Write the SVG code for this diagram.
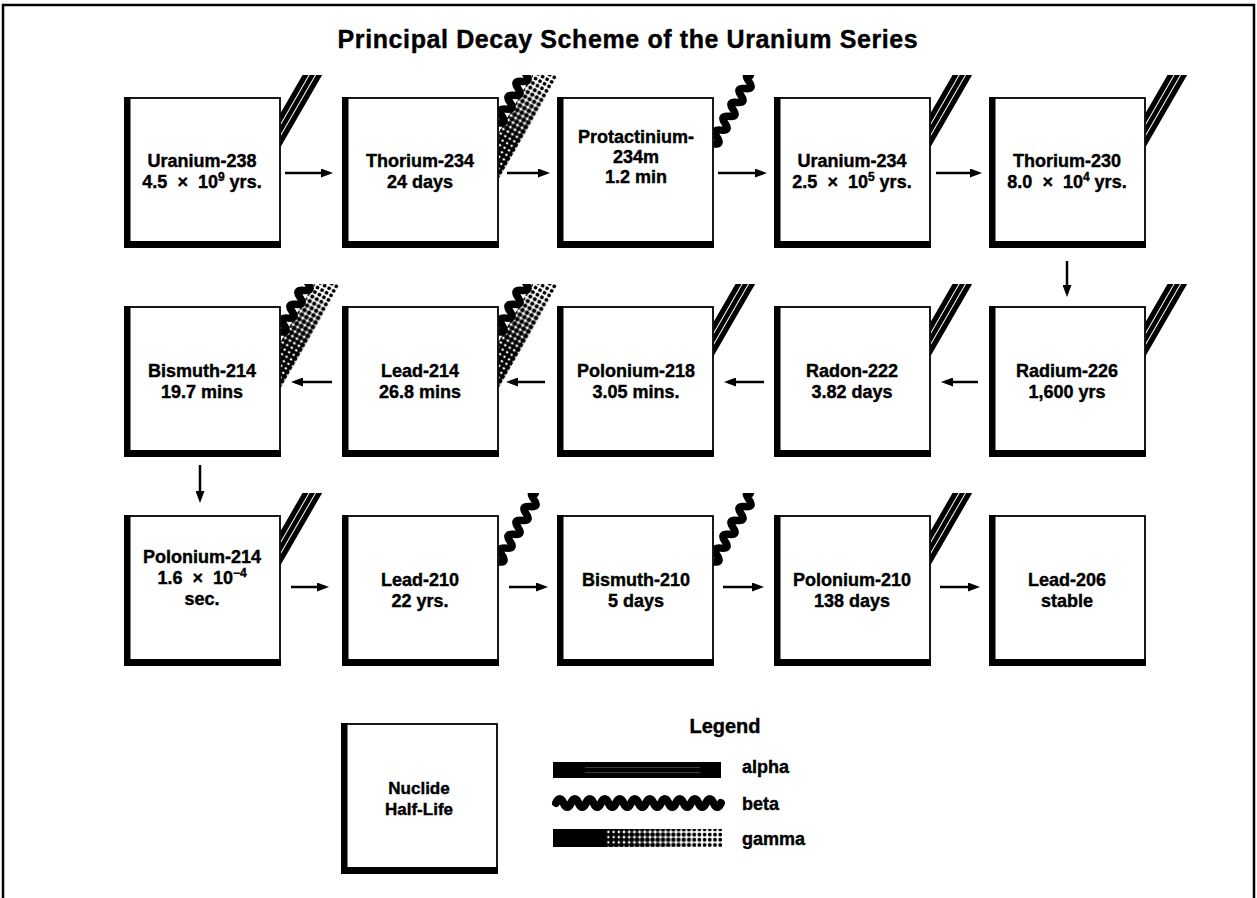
<svg xmlns="http://www.w3.org/2000/svg" xmlns:xlink="http://www.w3.org/1999/xlink" width="1257" height="898" viewBox="0 0 1257 898">
<style>
text{font-family:"Liberation Sans",Arial,Helvetica,sans-serif;font-weight:bold;fill:#000;stroke:#000;stroke-width:0.4}
.t{font-size:18px;text-anchor:middle}
.title{font-size:25px;text-anchor:middle;letter-spacing:0.6px}
.leg{font-size:18px}
.conn line{stroke:#000;stroke-width:2.5;marker-end:url(#ah)}
.wave{fill:none;stroke:#000;stroke-linecap:round}
</style>
<defs>
<marker id="ah" markerUnits="userSpaceOnUse" markerWidth="12" markerHeight="9" refX="8" refY="4.5" orient="auto">
<path d="M0,0 L12,4.5 L0,9 z" fill="#000"/>
</marker>
<clipPath id="clipDec"><rect x="0.6" y="-23" width="120" height="160"/></clipPath>
<pattern id="dotsB" patternUnits="userSpaceOnUse" width="5.2" height="5.2"><circle cx="2.6" cy="2.6" r="1.9" fill="#000"/></pattern>
<pattern id="dotsW" patternUnits="userSpaceOnUse" width="5.2" height="5.2"><circle cx="0" cy="0" r="1.2" fill="#fff"/><circle cx="5.2" cy="0" r="1.2" fill="#fff"/><circle cx="0" cy="5.2" r="1.2" fill="#fff"/><circle cx="5.2" cy="5.2" r="1.2" fill="#fff"/></pattern>
<linearGradient id="fadeDec" x1="0" y1="0" x2="1" y2="0">
<stop offset="0" stop-color="#000" stop-opacity="1"/>
<stop offset="0.35" stop-color="#000" stop-opacity="1"/>
<stop offset="0.6" stop-color="#000" stop-opacity="0.6"/>
<stop offset="0.85" stop-color="#000" stop-opacity="0"/>
</linearGradient>
<linearGradient id="fadeLeg" x1="0" y1="0" x2="1" y2="0">
<stop offset="0" stop-color="#000" stop-opacity="1"/>
<stop offset="0.35" stop-color="#000" stop-opacity="1"/>
<stop offset="0.7" stop-color="#000" stop-opacity="0.45"/>
<stop offset="0.9" stop-color="#000" stop-opacity="0"/>
</linearGradient>
<g id="nbox">
<rect x="0" y="0" width="155" height="149" fill="#fff" stroke="#000" stroke-width="1.8"/>
<path d="M-0.9,-0.9 h6.4 v144 h150.4 v6.8 h-156.8 z" fill="#000"/>
</g>
<g id="alphaDec" clip-path="url(#clipDec)">
<g transform="translate(0,50) rotate(-60)">
<rect x="-10" y="-17" width="110" height="17" fill="#000"/>
<line x1="-10" y1="-5.7" x2="100" y2="-5.7" stroke="#fff" stroke-width="1"/>
<line x1="-10" y1="-11.3" x2="100" y2="-11.3" stroke="#fff" stroke-width="1"/>
</g>
</g>
<g id="betaDec" clip-path="url(#clipDec)">
<path class="wave" stroke-width="7.5" transform="translate(0,46) rotate(-60)" d="M-8,0 q4,-9 8,0 t8,0 t8,0 t8,0 t8,0 t8,0 t8,0 t8,0 t8,0 t8,0 t6,-2"/>
</g>
<g id="bgDec" clip-path="url(#clipDec)">
<g transform="translate(0,82) rotate(-60)">
<rect x="-10" y="-23" width="135" height="23" fill="url(#dotsB)"/>
<rect x="-10" y="-23" width="135" height="23" fill="url(#fadeDec)"/>
<rect x="-10" y="-23" width="135" height="23" fill="url(#dotsW)"/>
</g>
<path class="wave" stroke-width="7.5" transform="translate(0,25) rotate(-60)" d="M-8,0 q4,-9 8,0 t8,0 t8,0 t8,0 t8,0 t8,0 t8,0 t8,0"/>
</g>
</defs>

<rect width="1257" height="898" fill="#fff"/>
<path d="M3,898 V5 H1254 V898" fill="none" stroke="#000" stroke-width="2.5"/>
<text class="title" x="628" y="48">Principal Decay Scheme of the Uranium Series</text>

<g id="connectors" class="conn">
<line x1="285" y1="173" x2="329" y2="173"/>
<line x1="507" y1="173" x2="546" y2="173"/>
<line x1="718" y1="173" x2="763" y2="173"/>
<line x1="936" y1="173" x2="978" y2="173"/>
<line x1="1067" y1="261" x2="1067" y2="293"/>
<line x1="978" y1="382" x2="945" y2="382"/>
<line x1="764" y1="382" x2="728" y2="382"/>
<line x1="545" y1="382" x2="510" y2="382"/>
<line x1="332" y1="382" x2="295" y2="382"/>
<line x1="200" y1="465" x2="200" y2="499"/>
<line x1="291" y1="587" x2="325" y2="587"/>
<line x1="509" y1="587" x2="544" y2="587"/>
<line x1="723" y1="587" x2="760" y2="587"/>
<line x1="940" y1="587" x2="976" y2="587"/>
</g>

<g id="uranium238">
<use xlink:href="#alphaDec" x="280" y="98"/>
<use xlink:href="#nbox" x="125" y="98"/>
<text class="t" x="202" y="167">Uranium-238</text>
<text class="t" x="202" y="188">4.5&#160; ×&#160; 10<tspan dy="-7" font-size="12">9</tspan><tspan dy="7"> yrs.</tspan></text>
</g>
<g id="thorium234">
<use xlink:href="#bgDec" x="498" y="98"/>
<use xlink:href="#nbox" x="343" y="98"/>
<text class="t" x="420" y="167">Thorium-234</text>
<text class="t" x="420" y="188">24 days</text>
</g>
<g id="protactinium234m">
<use xlink:href="#betaDec" x="713" y="98"/>
<use xlink:href="#nbox" x="558" y="98"/>
<text class="t" x="636" y="143">Protactinium-</text>
<text class="t" x="636" y="163">234m</text>
<text class="t" x="636" y="183">1.2 min</text>
</g>
<g id="uranium234">
<use xlink:href="#alphaDec" x="930" y="98"/>
<use xlink:href="#nbox" x="775" y="98"/>
<text class="t" x="852" y="167">Uranium-234</text>
<text class="t" x="852" y="188">2.5&#160; ×&#160; 10<tspan dy="-7" font-size="12">5</tspan><tspan dy="7"> yrs.</tspan></text>
</g>
<g id="thorium230">
<use xlink:href="#alphaDec" x="1145" y="98"/>
<use xlink:href="#nbox" x="990" y="98"/>
<text class="t" x="1067" y="167">Thorium-230</text>
<text class="t" x="1067" y="188">8.0&#160; ×&#160; 10<tspan dy="-7" font-size="12">4</tspan><tspan dy="7"> yrs.</tspan></text>
</g>

<g id="radium226">
<use xlink:href="#alphaDec" x="1145" y="307"/>
<use xlink:href="#nbox" x="990" y="307"/>
<text class="t" x="1067" y="377">Radium-226</text>
<text class="t" x="1067" y="398">1,600 yrs</text>
</g>
<g id="radon222">
<use xlink:href="#alphaDec" x="930" y="307"/>
<use xlink:href="#nbox" x="775" y="307"/>
<text class="t" x="852" y="377">Radon-222</text>
<text class="t" x="852" y="398">3.82 days</text>
</g>
<g id="polonium218">
<use xlink:href="#alphaDec" x="713" y="307"/>
<use xlink:href="#nbox" x="558" y="307"/>
<text class="t" x="636" y="377">Polonium-218</text>
<text class="t" x="636" y="398">3.05 mins.</text>
</g>
<g id="lead214">
<use xlink:href="#bgDec" x="498" y="307"/>
<use xlink:href="#nbox" x="343" y="307"/>
<text class="t" x="420" y="377">Lead-214</text>
<text class="t" x="420" y="398">26.8 mins</text>
</g>
<g id="bismuth214">
<use xlink:href="#bgDec" x="280" y="307"/>
<use xlink:href="#nbox" x="125" y="307"/>
<text class="t" x="202" y="377">Bismuth-214</text>
<text class="t" x="202" y="398">19.7 mins</text>
</g>

<g id="polonium214">
<use xlink:href="#alphaDec" x="280" y="516"/>
<use xlink:href="#nbox" x="125" y="516"/>
<text class="t" x="202" y="563">Polonium-214</text>
<text class="t" x="202" y="584">1.6&#160; ×&#160; 10<tspan dy="-7" font-size="12">−4</tspan></text>
<text class="t" x="202" y="605">sec.</text>
</g>
<g id="lead210">
<use xlink:href="#betaDec" x="498" y="516"/>
<use xlink:href="#nbox" x="343" y="516"/>
<text class="t" x="420" y="586">Lead-210</text>
<text class="t" x="420" y="607">22 yrs.</text>
</g>
<g id="bismuth210">
<use xlink:href="#betaDec" x="713" y="516"/>
<use xlink:href="#nbox" x="558" y="516"/>
<text class="t" x="636" y="586">Bismuth-210</text>
<text class="t" x="636" y="607">5 days</text>
</g>
<g id="polonium210">
<use xlink:href="#alphaDec" x="930" y="516"/>
<use xlink:href="#nbox" x="775" y="516"/>
<text class="t" x="852" y="586">Polonium-210</text>
<text class="t" x="852" y="607">138 days</text>
</g>
<g id="lead206">
<use xlink:href="#nbox" x="990" y="516"/>
<text class="t" x="1067" y="586">Lead-206</text>
<text class="t" x="1067" y="607">stable</text>
</g>

<g id="legend-key">
<use xlink:href="#nbox" x="342" y="724"/>
<text class="t" x="419" y="794" style="font-size:17px">Nuclide</text>
<text class="t" x="419" y="815" style="font-size:17px">Half-Life</text>
</g>
<g id="legend">
<text x="725" y="733" style="font-size:20px;text-anchor:middle">Legend</text>
<rect x="553" y="762" width="168" height="16" fill="#000"/>
<line x1="585" y1="767.5" x2="700" y2="767.5" stroke="#fff" stroke-width="0.8" opacity="0.3"/>
<line x1="585" y1="772.5" x2="700" y2="772.5" stroke="#fff" stroke-width="0.8" opacity="0.3"/>
<text class="leg" x="742" y="773">alpha</text>
<path class="wave" stroke-width="8" d="M556,803 q3.75,-8 7.5,0 t7.5,0 t7.5,0 t7.5,0 t7.5,0 t7.5,0 t7.5,0 t7.5,0 t7.5,0 t7.5,0 t7.5,0 t7.5,0 t7.5,0 t7.5,0 t7.5,0 t7.5,0 t7.5,0 t7.5,0 t7.5,0 t7.5,0 t7.5,0 t7.5,0"/>
<text class="leg" x="742" y="810">beta</text>
<rect x="553" y="829" width="169" height="18" fill="url(#dotsB)"/>
<rect x="553" y="829" width="169" height="18" fill="url(#fadeLeg)"/>
<rect x="605" y="829" width="117" height="18" fill="url(#dotsW)"/>
<text class="leg" x="742" y="845">gamma</text>
</g>
</svg>
